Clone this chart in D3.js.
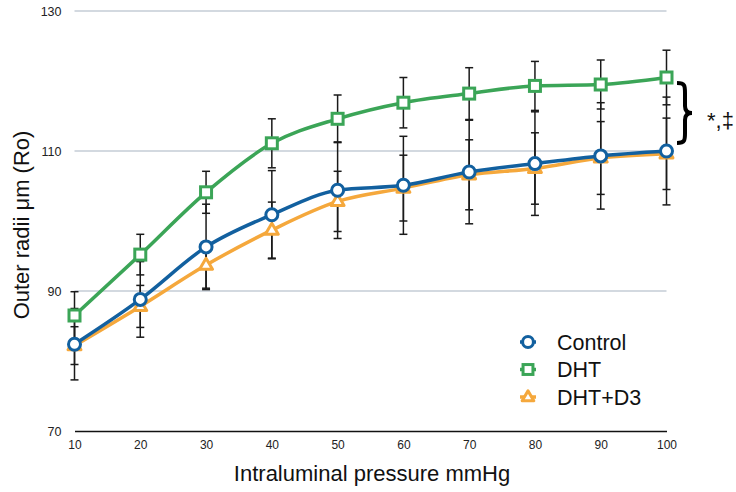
<!DOCTYPE html>
<html>
<head>
<meta charset="utf-8">
<script src="https://cdn.jsdelivr.net/npm/d3@7/dist/d3.min.js"></script>
<style>
  html, body { margin: 0; padding: 0; background: #fff; }
  svg { display: block; font-family: "Liberation Sans", Arial, Helvetica, sans-serif; }
</style>
</head>
<body>
<svg id="chart" width="736" height="492"></svg>
<script>
const pressures = [10, 20, 30, 40, 50, 60, 70, 80, 90, 100];
const controlMean = [82.4, 88.8, 96.3, 100.9, 104.4, 105.1, 107.0, 108.2, 109.3, 110.0];
const controlErr  = [5.1, 5.4, 6.1, 6.3, 6.9, 7.0, 7.4, 7.4, 7.6, 7.7];
const dhtMean = [86.5, 95.2, 104.1, 111.1, 114.6, 116.9, 118.2, 119.3, 119.5, 120.5];
const dhtErr  = [3.4, 2.9, 3.0, 3.5, 3.4, 3.6, 3.7, 3.5, 3.5, 3.9];
const dhtD3Mean = [82.2, 87.8, 93.7, 98.7, 102.8, 104.7, 106.6, 107.5, 109.0, 109.6];
const dhtD3Err  = [2.7, 3.0, 3.3, 4.0, 4.3, 4.7, 5.0, 5.1, 5.2, 5.1];
const yTicks = [70, 90, 110, 130];
const seriesNames = ["Control", "DHT", "DHT+D3"];
const seriesColors = ["#12609f", "#3ba557", "#f5a83c"];
const xTitle = "Intraluminal pressure mmHg";
const yTitle = "Outer radii μm (Ro)";
const sigLabel = "*,‡";

const series = [
  { name: seriesNames[0], mean: controlMean, err: controlErr, color: seriesColors[0], shape: "circle" },
  { name: seriesNames[1], mean: dhtMean, err: dhtErr, color: seriesColors[1], shape: "square" },
  { name: seriesNames[2], mean: dhtD3Mean, err: dhtD3Err, color: seriesColors[2], shape: "triangle" }
];

const svg = d3.select("#chart");
const x = d3.scaleLinear().domain([10, 100]).range([74.5, 666.5]);
const y = d3.scaleLinear().domain([70, 130]).range([431, 11]);

// gridlines
svg.append("g").selectAll("line").data(yTicks.filter(t => t !== 70)).join("line")
  .attr("x1", x(10)).attr("x2", x(100))
  .attr("y1", d => y(d)).attr("y2", d => y(d))
  .attr("stroke", "#a7b3c1").attr("stroke-width", 1);

// x axis
const xAxis = svg.append("g").attr("transform", `translate(0,${y(70)})`)
  .call(d3.axisBottom(x).tickValues(pressures).tickSize(0).tickPadding(9));
xAxis.select(".domain").attr("stroke", "#111").attr("stroke-width", 1.6);
xAxis.selectAll("text").attr("font-size", 12).attr("fill", "#222").attr("font-family", "Liberation Sans, Arial, sans-serif");

// y axis labels
const yAxis = svg.append("g").attr("transform", `translate(${x(10)},0)`)
  .call(d3.axisLeft(y).tickValues(yTicks).tickSize(0).tickPadding(13));
yAxis.select(".domain").remove();
yAxis.selectAll("text").attr("font-size", 12.5).attr("fill", "#222").attr("font-family", "Liberation Sans, Arial, sans-serif");

// error bars
const eb = svg.append("g");
series.forEach(s => {
  const g = eb.append("g");
  pressures.forEach((p, i) => {
    const lo = y(s.mean[i] - s.err[i]), hi = y(s.mean[i] + s.err[i]);
    g.append("line").attr("x1", x(p)).attr("x2", x(p)).attr("y1", lo).attr("y2", hi)
      .attr("stroke", "#1a1a1a").attr("stroke-width", 1.5);
    [lo, hi].forEach(v => g.append("line").attr("x1", x(p) - 4).attr("x2", x(p) + 4)
      .attr("y1", v).attr("y2", v).attr("stroke", "#1a1a1a").attr("stroke-width", 1.5));
  });
});

// lines
const line = d3.line().x((d, i) => x(pressures[i])).y(d => y(d)).curve(d3.curveMonotoneX);
[series[2], series[1], series[0]].forEach(s => {
  svg.append("path").datum(s.mean).attr("d", line)
    .attr("fill", "none").attr("stroke", s.color).attr("stroke-width", 3.5)
    .attr("stroke-linejoin", "round");
});

function drawMarker(g, shape, cx, cy, color, scale) {
  const k = scale || 1;
  if (shape === "circle") {
    g.append("circle").attr("cx", cx).attr("cy", cy).attr("r", 6 * k)
      .attr("fill", "#fff").attr("stroke", color).attr("stroke-width", 3);
  } else if (shape === "square") {
    const h = 5.5 * k;
    g.append("rect").attr("x", cx - h).attr("y", cy - h).attr("width", 2 * h).attr("height", 2 * h)
      .attr("fill", "#fff").attr("stroke", color).attr("stroke-width", 3);
  } else {
    const r = 6.8 * k;
    const pts = [[cx, cy - r], [cx + r * 0.95, cy + r * 0.6], [cx - r * 0.95, cy + r * 0.6]];
    g.append("polygon").attr("points", pts.map(p => p.join(",")).join(" "))
      .attr("fill", "#fff").attr("stroke", color).attr("stroke-width", 3).attr("stroke-linejoin", "round");
  }
}

// markers
const mk = svg.append("g");
[series[2], series[1], series[0]].forEach(s => {
  pressures.forEach((p, i) => drawMarker(mk, s.shape, x(p), y(s.mean[i]), s.color));
});

// bracket
const bx = 677, by0 = 83, by1 = 143, bm = (by0 + by1) / 2;
svg.append("path")
  .attr("d", `M${bx},${by0} C${bx + 8},${by0} ${bx + 8},${by0 + 3} ${bx + 8},${by0 + 10}
              L${bx + 8},${bm - 7} C${bx + 8},${bm - 2} ${bx + 11},${bm} ${bx + 15},${bm}
              C${bx + 11},${bm} ${bx + 8},${bm + 2} ${bx + 8},${bm + 7}
              L${bx + 8},${by1 - 10} C${bx + 8},${by1 - 3} ${bx + 8},${by1} ${bx},${by1}`)
  .attr("fill", "none").attr("stroke", "#000").attr("stroke-width", 4);
svg.append("text").attr("x", 707).attr("y", 128).attr("font-size", 22).attr("fill", "#111")
  .text(sigLabel);

// legend
const lg = svg.append("g");
series.forEach((s, i) => {
  const ly = 342 + i * 27.5;
  lg.append("line").attr("x1", 520).attr("x2", 536).attr("y1", ly).attr("y2", ly)
    .attr("stroke", s.color).attr("stroke-width", 3.5);
  drawMarker(lg, s.shape, 528, ly, s.color, 0.9);
  lg.append("text").attr("x", 557).attr("y", ly).attr("dy", "0.36em")
    .attr("font-size", 21.5).attr("fill", "#111").text(s.name);
});

// axis titles
svg.append("text").attr("x", 372).attr("y", 481).attr("text-anchor", "middle")
  .attr("font-size", 22).attr("fill", "#111").text(xTitle);
svg.append("text").attr("transform", "translate(29,225) rotate(-90)").attr("text-anchor", "middle")
  .attr("font-size", 22).attr("fill", "#111").text(yTitle);
</script>
</body>
</html>
